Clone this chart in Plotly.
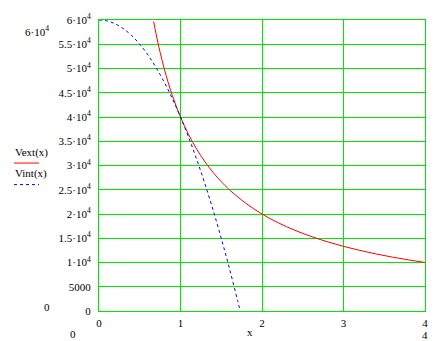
import plotly.graph_objects as go

# Values
ext_x = [0.67, 0.7, 0.75, 0.8, 0.85, 0.9, 0.95, 1.0, 1.1, 1.2, 1.3, 1.4, 1.5, 1.6, 1.8,
         2.0, 2.2, 2.4, 2.6, 2.8, 3.0, 3.2, 3.4, 3.6, 3.8, 4.0]
ext_y = [59700, 57140, 53330, 50000, 47060, 44440, 42100, 40000, 36360, 33330, 30770,
         28570, 26670, 25000, 22220, 20000, 18180, 16670, 15380, 14290, 13330, 12500,
         11760, 11110, 10530, 10000]
int_x = [0.0, 0.1, 0.2, 0.3, 0.4, 0.5, 0.6, 0.7, 0.8, 0.9, 1.0, 1.1, 1.2, 1.3, 1.4,
         1.5, 1.6, 1.7, 1.732]
int_y = [60000, 59800, 59200, 58200, 56800, 55000, 52800, 50200, 47200, 43800, 40000,
         35800, 31200, 26200, 20800, 15000, 8800, 2200, 0]

x_ticks = [0, 1, 2, 3, 4]
x_ticktext = ["0", "1", "2", "3", "4"]
y_ticks = [0, 5000, 10000, 15000, 20000, 25000, 30000, 35000, 40000, 45000, 50000, 55000, 60000]
y_ticktext = ["0", "5000", "1\u00b710<sup>4</sup>", "1.5\u00b710<sup>4</sup>", "2\u00b710<sup>4</sup>",
              "2.5\u00b710<sup>4</sup>", "3\u00b710<sup>4</sup>", "3.5\u00b710<sup>4</sup>",
              "4\u00b710<sup>4</sup>", "4.5\u00b710<sup>4</sup>", "5\u00b710<sup>4</sup>",
              "5.5\u00b710<sup>4</sup>", "6\u00b710<sup>4</sup>"]
legend_names = ["Vext(x)", "Vint(x)"]

GREEN = "#00e800"
FONT = dict(family="Liberation Serif", size=11, color="black")

fig = go.Figure()
fig.add_trace(go.Scatter(x=ext_x, y=ext_y, mode="lines", line=dict(color="#ff0000", width=1, shape="spline"),
                         name=legend_names[0]))
fig.add_trace(go.Scatter(x=int_x, y=int_y, mode="lines",
                         line=dict(color="#0000ff", width=1, dash="3px,3px", shape="spline"),
                         name=legend_names[1]))

W, H = 446, 341
L, R, T, B = 99, 425, 15, 312


def px(xp):
    return (xp - L) / (R - L)


def py(yp):
    return (B - yp) / (B - T)


annotations = [
    dict(text=legend_names[0], x=px(31), y=py(150)),
    dict(text=legend_names[1], x=px(31), y=py(172)),
    dict(text="6\u00b710<sup>4</sup>", x=px(37), y=py(26)),
    dict(text="0", x=px(47), y=py(308)),
    dict(text="0", x=px(73), y=py(335)),
    dict(text="4", x=px(425), y=py(336)),
    dict(text="x", x=px(250), y=py(333)),
]
for a in annotations:
    a.update(xref="paper", yref="paper", showarrow=False, font=FONT, xanchor="center", yanchor="middle")

shapes = [
    dict(type="line", xref="paper", yref="paper", x0=px(14), x1=px(39), y0=py(161), y1=py(161),
         line=dict(color="#ff0000", width=1)),
    dict(type="line", xref="paper", yref="paper", x0=px(14), x1=px(39), y0=py(183), y1=py(183),
         line=dict(color="#0000ff", width=1, dash="3px,3px")),
]

fig.update_layout(
    width=W, height=H,
    margin=dict(l=L, r=W - R, t=T, b=H - B, pad=0),
    paper_bgcolor="white", plot_bgcolor="white",
    showlegend=False,
    font=FONT,
    annotations=annotations,
    shapes=shapes,
    xaxis=dict(range=[0, 4], tickvals=x_ticks, ticktext=x_ticktext, showgrid=True, gridcolor=GREEN,
               gridwidth=1, showline=True, linecolor=GREEN, linewidth=1, mirror=True, zeroline=False,
               ticks="", tickfont=FONT, ticklabelstandoff=2),
    yaxis=dict(range=[0, 60000], tickvals=y_ticks, ticktext=y_ticktext, showgrid=True, gridcolor=GREEN,
               gridwidth=1, showline=True, linecolor=GREEN, linewidth=1, mirror=True, zeroline=False,
               ticks="", tickfont=FONT, ticklabelstandoff=5),
)

fig.write_html("out.html")
